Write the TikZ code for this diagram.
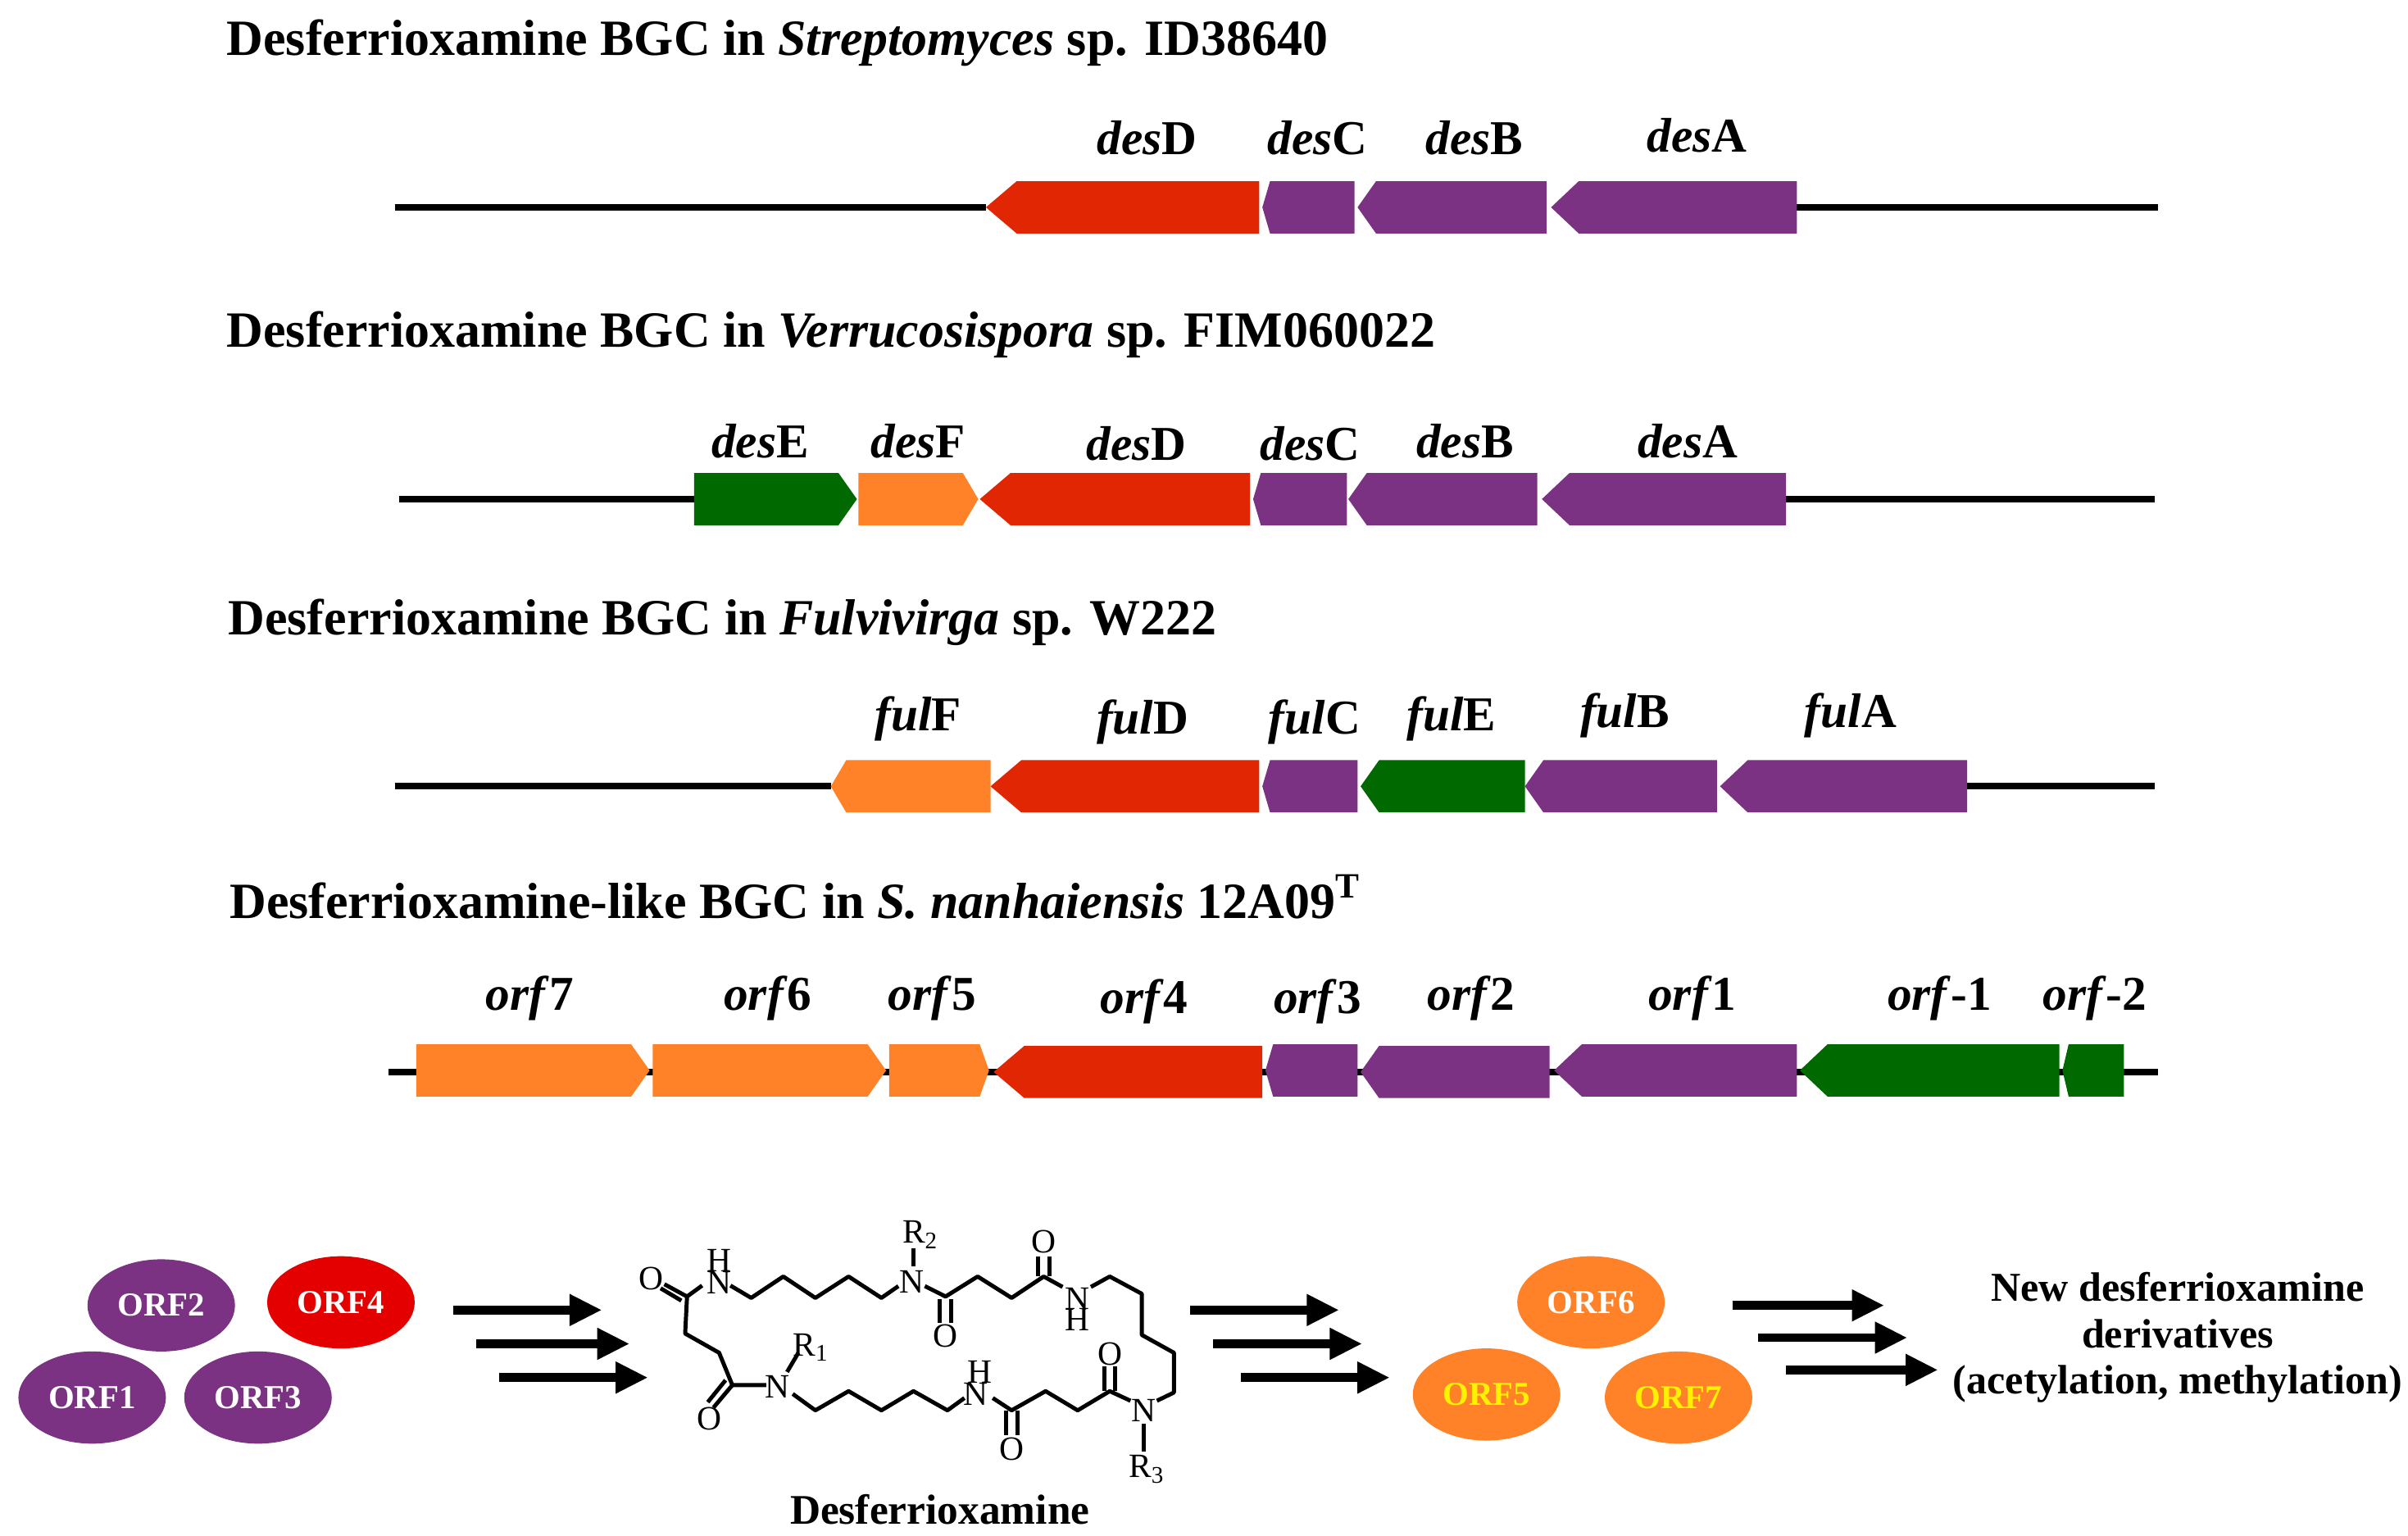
\documentclass[tikz,border=0pt]{standalone}
\usepackage{fontspec}
\setmainfont{Liberation Serif}
\usetikzlibrary{arrows.meta,shapes.geometric}
\definecolor{gred}{HTML}{E02603}
\definecolor{gpur}{HTML}{7B3282}
\definecolor{ggrn}{HTML}{006A00}
\definecolor{gora}{HTML}{FF8228}
\definecolor{ered}{HTML}{E50000}
\newcommand\gL[5]{\fill[#5] (#1,#3) -- ({#1+#4},{#3-17}) -- (#2,{#3-17}) -- (#2,{#3+17}) -- ({#1+#4},{#3+17}) -- cycle;}
\newcommand\gR[5]{\fill[#5] (#2,#3) -- ({#2-#4},{#3-17}) -- (#1,{#3-17}) -- (#1,{#3+17}) -- ({#2-#4},{#3+17}) -- cycle;}
\begin{document}
\begin{tikzpicture}[x=0.01cm,y=-0.01cm,
 title/.style={anchor=west,inner sep=0pt,font=\fontsize{9.4}{11}\selectfont\bfseries},
 gl/.style={font=\fontsize{9}{10}\selectfont\bfseries},
 bb/.style={line width=1.2pt},
 orf/.style={ellipse,minimum width=0.96cm,minimum height=0.6cm,inner sep=0pt,font=\fontsize{6.2}{7}\selectfont\bfseries},
 ar/.style={line width=1.6pt,-{Triangle[length=6pt,width=5.5pt]}},
 ch/.style={font=\fontsize{6.3}{7}\selectfont,inner sep=1pt},
 bd/.style={line width=0.75pt,line join=round}]
\useasboundingbox (0,0) rectangle (1568,1000);
% Row 1
\node[title] (t1) at (147,28) {Desferrioxamine BGC in \textit{Streptomyces} sp. ID38640};
\draw[bb] (257,135) -- (642,135) (1170,135) -- (1405,135);
\gL{642}{820}{135}{20}{gred}
\gL{822}{882}{135}{5}{gpur}
\gL{884}{1007}{135}{12}{gpur}
\gL{1010}{1170}{135}{18}{gpur}
\node[gl] (a1) at (747,90) {\textit{des}D};
\node[gl] (a2) at (858,90) {\textit{des}C};
\node[gl] (a3) at (960,90) {\textit{des}B};
\node[gl] (a4) at (1105,88) {\textit{des}A};
% Row 2
\node[title] (t2) at (147,218) {Desferrioxamine BGC in \textit{Verrucosispora} sp. FIM060022};
\draw[bb] (260,325) -- (452,325) (1163,325) -- (1403,325);
\gR{452}{558}{325}{12}{ggrn}
\gR{559}{637}{325}{10}{gora}
\gL{638}{814}{325}{20}{gred}
\gL{816}{877}{325}{5}{gpur}
\gL{878}{1001}{325}{12}{gpur}
\gL{1004}{1163}{325}{18}{gpur}
\node[gl] (b1) at (495,287) {\textit{des}E};
\node[gl] (b2) at (598,287) {\textit{des}F};
\node[gl] (b3) at (740,289) {\textit{des}D};
\node[gl] (b4) at (853,289) {\textit{des}C};
\node[gl] (b5) at (954,287) {\textit{des}B};
\node[gl] (b6) at (1099,287) {\textit{des}A};
% Row 3
\node[title] (t3) at (148,405) {Desferrioxamine BGC in \textit{Fulvivirga} sp. W222};
\draw[bb] (257,512) -- (541,512) (1281,512) -- (1403,512);
\gL{541}{645}{512}{10}{gora}
\gL{645}{820}{512}{20}{gred}
\gL{822}{884}{512}{5}{gpur}
\gL{886}{993}{512}{12}{ggrn}
\gL{993}{1118}{512}{12}{gpur}
\gL{1120}{1281}{512}{18}{gpur}
\node[gl] (c1) at (598,468) {\textit{ful}F};
\node[gl] (c2) at (744,470) {\textit{ful}D};
\node[gl] (c3) at (856,470) {\textit{ful}C};
\node[gl] (c4) at (945,468) {\textit{ful}E};
\node[gl] (c5) at (1058,466) {\textit{ful}B};
\node[gl] (c6) at (1205,466) {\textit{ful}A};
% Row 4
\node[title] (t4) at (149,584) {Desferrioxamine-like BGC in \textit{S. nanhaiensis} 12A09\textsuperscript{T}};
\draw[bb] (253,698) -- (1405,698);
\gR{271}{423}{697}{12}{gora}
\gR{425}{577}{697}{12}{gora}
\gR{579}{644}{697}{6}{gora}
\gL{647}{822}{698}{20}{gred}
\gL{824}{884}{697}{5}{gpur}
\gL{886}{1009}{698}{12}{gpur}
\gL{1012}{1170}{697}{18}{gpur}
\gL{1172}{1341}{697}{18}{ggrn}
\gL{1343}{1383}{697}{4}{ggrn}
\node[gl] (d1) at (345,650) {\textit{orf}7};
\node[gl] (d2) at (500,650) {\textit{orf}6};
\node[gl] (d3) at (607,650) {\textit{orf}5};
\node[gl] (d4) at (745,652) {\textit{orf}4};
\node[gl] (d5) at (858,652) {\textit{orf}3};
\node[gl] (d6) at (958,650) {\textit{orf}2};
\node[gl] (d7) at (1102,650) {\textit{orf}1};
\node[gl] (d8) at (1263,650) {\textit{orf}-1};
\node[gl] (d9) at (1364,650) {\textit{orf}-2};
% Bottom
\node[orf,fill=gpur,text=white] (o2) at (105,850) {ORF2};
\node[orf,fill=ered,text=white] (o4) at (222,848) {ORF4};
\node[orf,fill=gpur,text=white] (o1) at (60,910) {ORF1};
\node[orf,fill=gpur,text=white] (o3) at (168,910) {ORF3};
\coordinate (p1a) at (295,853); \coordinate (p1b) at (392,853);
\coordinate (p2a) at (310,875); \coordinate (p2b) at (410,875);
\coordinate (p3a) at (325,897); \coordinate (p3b) at (422,897);
\draw[ar] (p1a) -- (p1b); \draw[ar] (p2a) -- (p2b); \draw[ar] (p3a) -- (p3b);
\coordinate (q1a) at (775,853); \coordinate (q1b) at (872,853);
\coordinate (q2a) at (790,875); \coordinate (q2b) at (887,875);
\coordinate (q3a) at (808,897); \coordinate (q3b) at (905,897);
\draw[ar] (q1a) -- (q1b); \draw[ar] (q2a) -- (q2b); \draw[ar] (q3a) -- (q3b);
\node[orf,fill=gora,text=white] (o6) at (1036,848) {ORF6};
\node[orf,fill=gora,text=yellow] (o5) at (968,908) {ORF5};
\node[orf,fill=gora,text=yellow] (o7) at (1093,910) {ORF7};
\coordinate (r1a) at (1128,850); \coordinate (r1b) at (1227,850);
\coordinate (r2a) at (1145,871); \coordinate (r2b) at (1242,871);
\coordinate (r3a) at (1163,892); \coordinate (r3b) at (1262,892);
\draw[ar] (r1a) -- (r1b); \draw[ar] (r2a) -- (r2b); \draw[ar] (r3a) -- (r3b);
\node[align=center,font=\fontsize{7.6}{8.6}\selectfont\bfseries] (nd) at (1418,871) {New desferrioxamine\\derivatives\\(acetylation, methylation)};
\node[font=\fontsize{7.8}{9}\selectfont\bfseries] (dfo) at (612,983) {Desferrioxamine};
% structure
\begin{scope}[shift={(405.6,784.4)},x=0.00245cm,y=-0.00178cm]
\draw[bd] (210,295) -- (170,335) -- (165,470) -- (255,540) -- (290,658) -- (380,658);
\draw[bd] (170,335) -- (110,290);
\draw[bd] (155,350) -- (100,305);
\draw[bd] (290,658) -- (240,740);
\draw[bd] (272,640) -- (225,720);
\draw[bd] (285,295) -- (340,340) -- (425,262) -- (510,340) -- (598,262) -- (685,340) -- (730,297);
\draw[bd] (770,160) -- (770,225);
\draw[bd] (800,297) -- (855,335) -- (940,262) -- (1030,340) -- (1115,262) -- (1165,300);
\draw[bd] (840,345) -- (840,430) (870,345) -- (870,430);
\draw[bd] (1100,262) -- (1100,190) (1130,262) -- (1130,190);
\draw[bd] (1240,300) -- (1290,262) -- (1375,325) -- (1375,475) -- (1460,540) -- (1460,685) -- (1415,715);
\draw[bd] (1380,800) -- (1380,900);
\draw[bd] (1345,715) -- (1290,680) -- (1205,750) -- (1120,680) -- (1030,750) -- (980,705);
\draw[bd] (1275,680) -- (1275,590) (1305,680) -- (1305,590);
\draw[bd] (1015,750) -- (1015,840) (1045,750) -- (1045,840);
\draw[bd] (905,705) -- (860,750) -- (770,680) -- (685,750) -- (598,680) -- (510,750) -- (450,690);
\draw[bd] (435,610) -- (465,540);
\node[ch] (s1) at (75,270) {O};
\node[ch] (s2) at (255,285) {N};
\node[ch] (s3) at (255,205) {H};
\node[ch] (s4) at (765,280) {N};
\node[ch] (s5) at (790,110) {R\textsubscript{2}};
\node[ch] (s6) at (855,480) {O};
\node[ch] (s7) at (1115,135) {O};
\node[ch] (s8) at (1205,345) {N};
\node[ch] (s9) at (1205,420) {H};
\node[ch] (s10) at (1380,750) {N};
\node[ch] (s11) at (1390,965) {R\textsubscript{3}};
\node[ch] (s12) at (1290,545) {O};
\node[ch] (s13) at (1030,890) {O};
\node[ch] (s14) at (935,690) {N};
\node[ch] (s15) at (945,610) {H};
\node[ch] (s16) at (410,665) {N};
\node[ch] (s17) at (500,520) {R\textsubscript{1}};
\node[ch] (s18) at (230,780) {O};
\end{scope}
\end{tikzpicture}
\end{document}
